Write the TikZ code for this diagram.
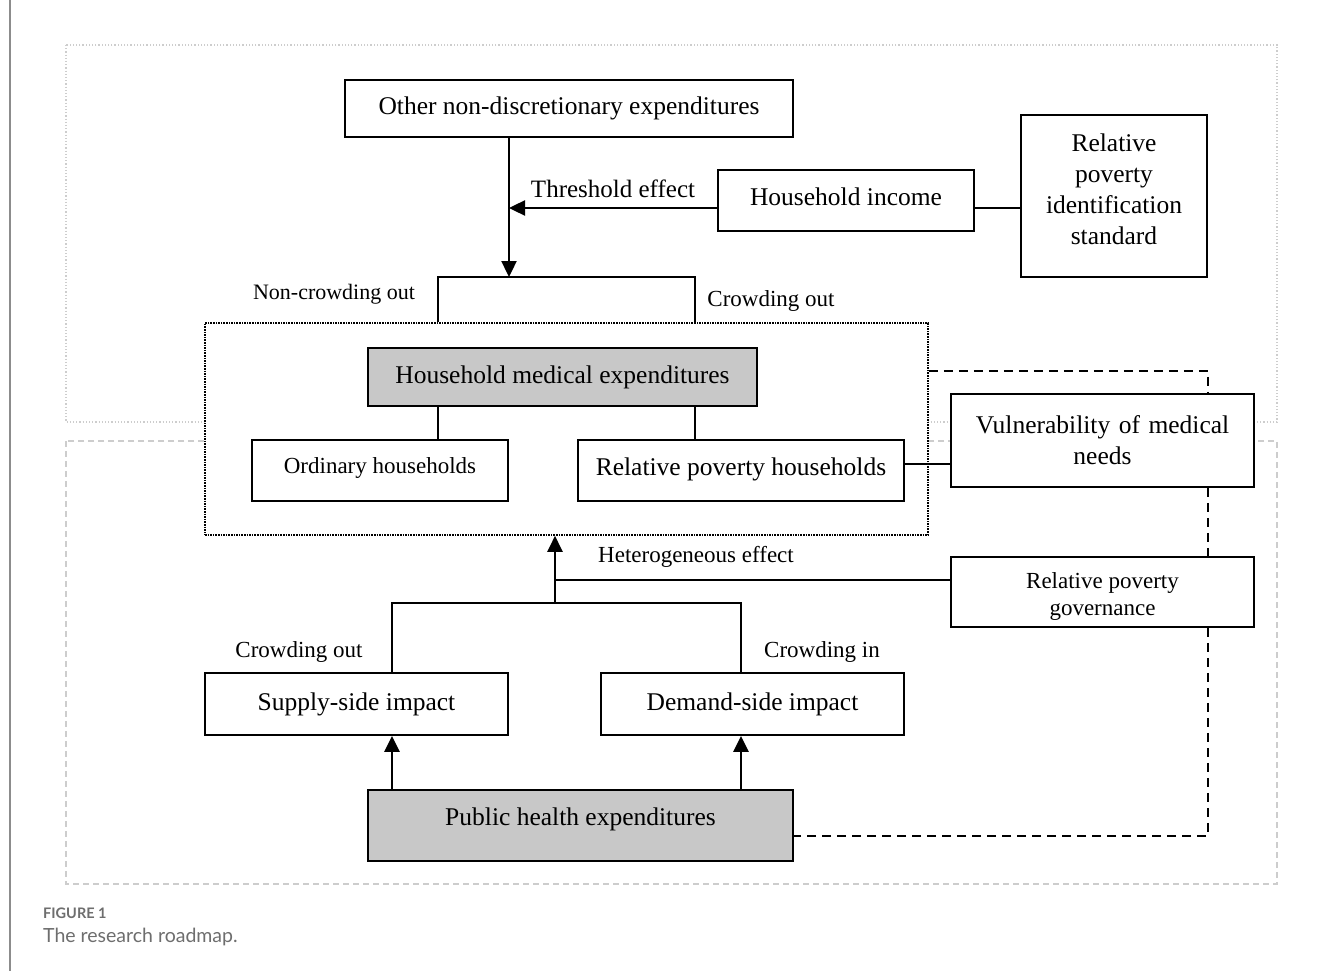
\documentclass[tikz,border=0pt]{standalone}
\usepackage{fontspec}
\setmainfont{Liberation Serif}
\newfontfamily\capfont{Lato}
\usetikzlibrary{arrows.meta}
\definecolor{boxgray}{RGB}{200,200,200}
\definecolor{framegray}{RGB}{205,205,205}
\definecolor{capgray}{RGB}{110,110,110}
\tikzset{
  bx/.style={draw=black, line width=1.8pt, fill=white, inner sep=0pt, align=center, font=\fontsize{25.5}{31}\selectfont},
  gbx/.style={bx, fill=boxgray},
  sbx/.style={bx, font=\fontsize{23}{27}\selectfont},
  lab/.style={inner sep=0pt, font=\fontsize{23}{27}\selectfont},
  ln/.style={draw=black, line width=1.8pt},
  arr/.style={draw=black, line width=2.4pt, -{Triangle[length=16pt,width=15pt]}},
  dsh/.style={draw=black, line width=1.8pt, dash pattern=on 9pt off 6pt},
}
\begin{document}
\begin{tikzpicture}[x=1pt,y=-1pt]
\useasboundingbox[fill=white] (0,0) rectangle (1323,971);
% page edge
\draw[draw=black!45, line width=1.5pt] (10,0) -- (10,971);
% outer frames
\draw[draw=framegray, line width=1.2pt, dotted] (66,45) rectangle (1277,422);
\draw[draw=framegray, line width=1.2pt, dash pattern=on 6pt off 4pt] (66,441) rectangle (1277,884);

% group box
\node[draw=black, line width=1.6pt, densely dotted, fill=white, minimum width=723pt, minimum height=212pt, inner sep=0pt] (grp) at (566.5,429) {};

% nodes
\node[bx, minimum width=448pt, minimum height=57pt] (other) at (569,108.5) {Other non-discretionary expenditures};
\node[bx, minimum width=256pt, minimum height=61pt, text depth=7pt] (hi) at (846,200.5) {Household income};
\node[bx, minimum width=186pt, minimum height=162pt] (rpis) at (1114,196) {};
\node[inner sep=0pt, align=center, font=\fontsize{25.5}{31}\selectfont] (rpist) at (1114,189.5) {Relative\\poverty\\identification\\standard};
\node[gbx, minimum width=389pt, minimum height=58pt] (hme) at (562.5,377) {Household medical expenditures};
\node[sbx, minimum width=256pt, minimum height=61pt, text depth=9pt] (ord) at (380,470.5) {Ordinary households};
\node[bx, minimum width=326pt, minimum height=61pt, text depth=8pt] (rph) at (741,470.5) {Relative poverty households};
\node[bx, minimum width=303pt, minimum height=93pt, text width=290pt] (vul) at (1102.5,440.5) {Vulnerability of medical\\needs};
\node[sbx, minimum width=303pt, minimum height=70pt] (rpg) at (1102.5,592) {};
\node[inner sep=0pt, align=center, font=\fontsize{23}{27}\selectfont] (rpgt) at (1102.5,596) {Relative poverty\\governance};
\node[bx, minimum width=303pt, minimum height=62pt] (sup) at (356.5,704) {Supply-side impact};
\node[bx, minimum width=303pt, minimum height=62pt] (dem) at (752.5,704) {Demand-side impact};
\node[gbx, minimum width=425pt, minimum height=71pt, text depth=17pt] (phe) at (580.5,825.5) {Public health expenditures};

% labels
\node[lab, font=\fontsize{25}{30}\selectfont] (lthr) at (613,189) {Threshold effect};
\node[lab, font=\fontsize{22}{26}\selectfont] (lnco) at (334,294) {Non-crowding out};
\node[lab] (lco1) at (771,301) {Crowding out};
\node[lab] (lhet) at (696,557) {Heterogeneous effect};
\node[lab] (lco2) at (299,652) {Crowding out};
\node[lab] (lci) at (822,652) {Crowding in};

% coordinates
\coordinate (brk) at (509,277);
\coordinate (bl) at (438,277);
\coordinate (br) at (695,277);
\coordinate (thr) at (509,208);
\coordinate (hy) at (0,208);
\coordinate (dy) at (1208,371);
\coordinate (dby) at (1208,836);
\coordinate (gy) at (555,580);
\coordinate (fork) at (555,603);
\coordinate (fl) at (392,603);
\coordinate (fr) at (741,603);
\coordinate (ry) at (0,464);

% top connectors
\draw[arr] (other.south -| brk) -- (brk);
\draw[arr] (hi.west |- hy) -- (thr);
\draw[ln] (hi.east |- hy) -- (rpis.west |- hy);
\draw[ln] (grp.north -| bl) -- (bl) -- (br) -- (grp.north -| br);
\draw[ln] (hme.south -| bl) -- (ord.north -| bl);
\draw[ln] (hme.south -| br) -- (ord.north -| br);
\draw[ln] (rph.east |- ry) -- (vul.west |- ry);

% dashed feedback
\draw[dsh] (grp.east |- dy) -- (dy) -- (vul.north -| dy);
\draw[dsh] (vul.south -| dy) -- (rpg.north -| dy);
\draw[dsh] (rpg.south -| dy) -- (dby) -- (phe.east |- dby);

% heterogeneous effect
\draw[ln] (rpg.west |- gy) -- (gy);
\draw[arr] (fork) -- (grp.south -| fork);
\draw[ln] (sup.north -| fl) -- (fl) -- (fr) -- (dem.north -| fr);

% bottom arrows
\draw[arr] (phe.north -| fl) -- (sup.south -| fl);
\draw[arr] (phe.north -| fr) -- (dem.south -| fr);

% caption
\node[anchor=base west, inner sep=0pt, text=capgray, font=\capfont\bfseries\fontsize{14.5}{16}\selectfont] (cap1) at (43,918) {FIGURE 1};
\node[anchor=base west, inner sep=0pt, text=capgray, font=\capfont\fontsize{19.5}{22}\selectfont] (cap2) at (43,942) {The research roadmap.};
\end{tikzpicture}
\end{document}
